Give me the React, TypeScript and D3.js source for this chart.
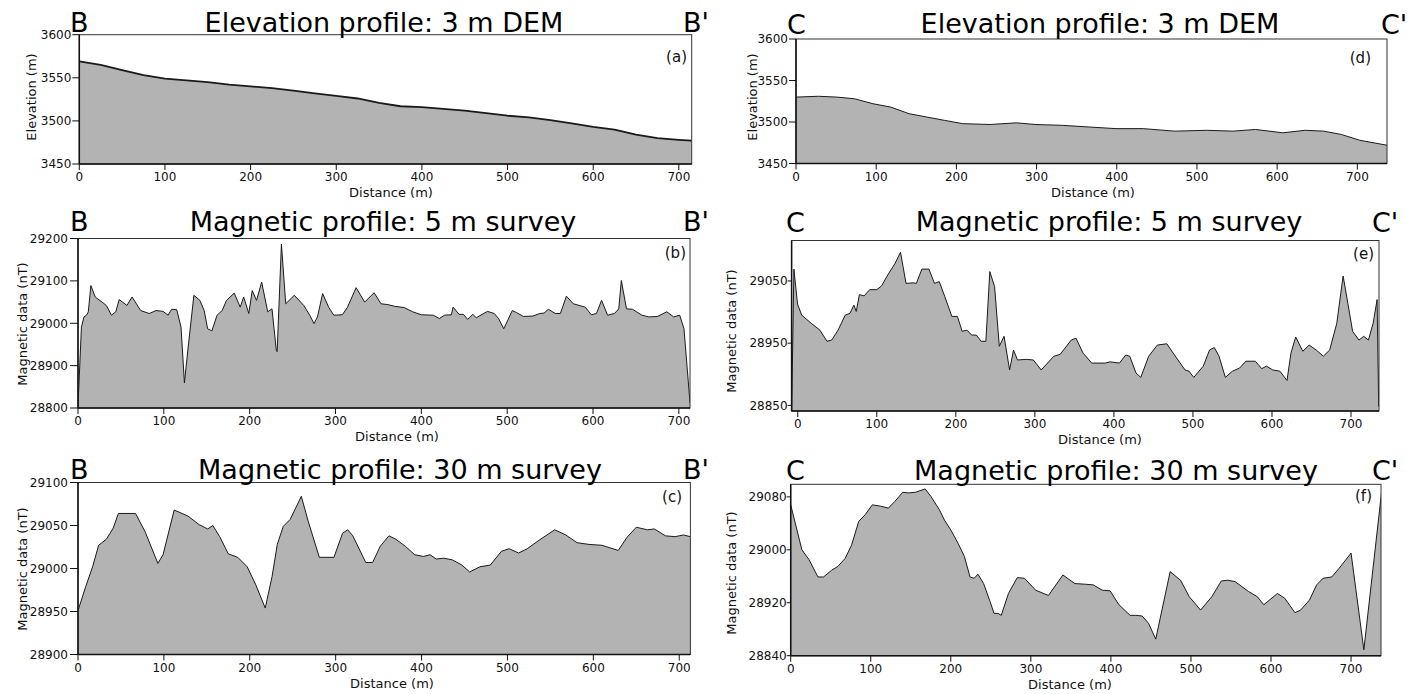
import React from "react";
import * as d3 from "d3";

// ---------- DATA ----------
// Profile B-B' : elevation (3 m DEM)
const elevB_dist = [0, 25, 50, 75, 100, 125, 150, 175, 200, 225, 250, 275, 300, 325, 350, 375, 400, 425, 450, 475, 500, 525, 550, 575, 600, 625, 650, 675, 700, 715];
const elevB_val = [3569, 3565, 3559, 3553, 3549, 3547, 3545, 3542, 3540, 3538, 3535, 3532, 3529, 3526, 3521, 3517, 3516, 3514, 3512, 3509, 3506, 3504, 3501, 3497, 3493, 3490, 3484, 3480, 3478, 3477];

// Profile B-B' : magnetic 5 m survey
const mag5B_dist = [0, 4, 7, 10, 12, 15, 20, 28, 33, 39, 44, 48, 57, 63, 73, 83, 91, 99, 105, 109, 115, 120, 124, 128, 135, 142, 147, 151, 156, 162, 168, 173, 182, 189, 193, 199, 203, 208, 214, 221, 226, 231, 232, 237, 242, 252, 263, 270, 275, 279, 285, 292, 298, 308, 314, 324, 334, 345, 353, 361, 369, 380, 390, 400, 414, 421, 427, 435, 437, 444, 449, 454, 460, 464, 477, 485, 490, 496, 506, 511, 519, 530, 538, 543, 548, 556, 562, 569, 577, 591, 598, 604, 610, 617, 625, 630, 633, 639, 646, 657, 665, 675, 686, 694, 701, 706, 713];
const mag5B_val = [28805, 28991, 29015, 29019, 29027, 29089, 29062, 29050, 29042, 29019, 29027, 29056, 29042, 29062, 29030, 29023, 29030, 29028, 29019, 29033, 29032, 28991, 28859, 28937, 29066, 29054, 29030, 28987, 28982, 29019, 29030, 29054, 29071, 29038, 29062, 29023, 29077, 29054, 29097, 29027, 29034, 28937, 28933, 29187, 29046, 29066, 29042, 29019, 28999, 29015, 29070, 29038, 29019, 29020, 29038, 29084, 29050, 29072, 29046, 29044, 29040, 29037, 29027, 29020, 29019, 29011, 29019, 29020, 29038, 29021, 29021, 29009, 29021, 29013, 29028, 29023, 29011, 28987, 29030, 29025, 29016, 29017, 29023, 29024, 29033, 29023, 29023, 29064, 29046, 29038, 29020, 29023, 29054, 29019, 29023, 29034, 29101, 29034, 29033, 29019, 29015, 29016, 29027, 29015, 29019, 28987, 28812];

// Profile B-B' : magnetic 30 m survey
const mag30B_dist = [0, 9, 17, 24, 33, 41, 47, 67, 78, 93, 99, 112, 128, 141, 151, 157, 165, 175, 186, 197, 207, 218, 226, 232, 239, 247, 260, 268, 281, 298, 308, 314, 320, 335, 343, 352, 362, 370, 381, 392, 402, 410, 417, 426, 436, 447, 456, 468, 480, 493, 502, 513, 523, 537, 555, 568, 581, 595, 610, 629, 639, 650, 663, 671, 684, 695, 705, 713];
const mag30B_val = [28951, 28979, 29002, 29027, 29034, 29047, 29064, 29064, 29043, 29006, 29016, 29068, 29061, 29051, 29046, 29050, 29037, 29017, 29013, 29002, 28981, 28954, 28991, 29028, 29049, 29057, 29084, 29055, 29013, 29013, 29041, 29045, 29038, 29007, 29007, 29026, 29038, 29034, 29026, 29016, 29014, 29016, 29011, 29012, 29010, 29004, 28996, 29002, 29004, 29020, 29023, 29018, 29023, 29033, 29045, 29039, 29030, 29028, 29027, 29021, 29036, 29048, 29045, 29046, 29038, 29037, 29039, 29037];

// Profile C-C' : elevation (3 m DEM)
const elevC_dist = [0, 28, 51, 73, 96, 118, 141, 163, 185, 208, 242, 275, 298, 332, 365, 399, 433, 472, 512, 545, 573, 607, 635, 658, 680, 703, 737];
const elevC_val = [3530, 3531, 3530, 3528, 3522, 3518, 3510, 3506, 3502, 3498, 3497, 3499, 3497, 3496, 3494, 3492, 3492, 3489, 3490, 3489, 3491, 3487, 3490, 3489, 3485, 3478, 3472];

// Profile C-C' : magnetic 5 m survey
const mag5C_dist = [-7.7, -4.9, -0.3, 5, 17, 28, 37, 43, 51, 60, 66, 71, 74, 78, 84, 91, 100, 106, 114, 123, 130, 137, 146, 150, 157, 166, 173, 179, 186, 195, 202, 208, 214, 220, 226, 232, 238, 243, 249, 255, 261, 268, 273, 278, 289, 298, 308, 324, 332, 346, 352, 361, 372, 389, 395, 407, 415, 420, 428, 434, 444, 455, 467, 475, 490, 495, 501, 513, 521, 527, 533, 541, 550, 559, 567, 579, 587, 593, 601, 610, 619, 624, 630, 639, 647, 656, 665, 673, 682, 690, 696, 702, 710, 716, 722, 728, 733, 735];
const mag5C_val = [28843, 29069, 29013, 28995, 28982, 28971, 28953, 28955, 28971, 28995, 28998, 29011, 29001, 29028, 29026, 29036, 29036, 29042, 29060, 29078, 29096, 29046, 29047, 29046, 29069, 29069, 29046, 29049, 29025, 28993, 28993, 28969, 28971, 28963, 28963, 28953, 28953, 29065, 29041, 28945, 28961, 28907, 28939, 28923, 28924, 28923, 28907, 28929, 28932, 28955, 28958, 28934, 28918, 28918, 28920, 28918, 28931, 28929, 28902, 28895, 28929, 28947, 28949, 28934, 28907, 28905, 28895, 28913, 28939, 28943, 28929, 28895, 28905, 28910, 28921, 28921, 28909, 28913, 28907, 28905, 28890, 28934, 28960, 28937, 28947, 28939, 28929, 28939, 28982, 29058, 29014, 28969, 28955, 28961, 28955, 28982, 29020, 28848];

// Profile C-C' : magnetic 30 m survey
const mag30C_dist = [0, 14, 23, 34, 41, 51, 59, 68, 76, 85, 93, 102, 112, 122, 130, 140, 147, 156, 168, 175, 186, 192, 200, 209, 217, 224, 229, 234, 241, 249, 254, 259, 263, 272, 283, 292, 306, 322, 340, 355, 368, 378, 389, 399, 410, 424, 431, 439, 447, 456, 474, 487, 498, 512, 526, 538, 546, 555, 572, 583, 591, 608, 617, 630, 637, 648, 657, 665, 676, 685, 700, 716, 738];
const mag30C_val = [29068, 29000, 28985, 28959, 28959, 28969, 28975, 28987, 29007, 29043, 29053, 29068, 29066, 29063, 29073, 29087, 29086, 29087, 29092, 29081, 29060, 29045, 29030, 29010, 28990, 28959, 28957, 28963, 28949, 28922, 28904, 28904, 28901, 28934, 28958, 28957, 28939, 28931, 28962, 28949, 28948, 28947, 28939, 28938, 28917, 28901, 28901, 28900, 28889, 28865, 28967, 28954, 28929, 28909, 28929, 28953, 28954, 28952, 28937, 28929, 28917, 28934, 28927, 28905, 28909, 28924, 28947, 28957, 28959, 28972, 28995, 28849, 29086];

const distTicks = [0, 100, 200, 300, 400, 500, 600, 700];
const elevTicks = [3450, 3500, 3550, 3600];
const mag5BTicks = [28800, 28900, 29000, 29100, 29200];
const mag30BTicks = [28900, 28950, 29000, 29050, 29100];
const mag5CTicks = [28850, 28950, 29050];
const mag30CTicks = [28840, 28920, 29000, 29080];

// ---------- LAYOUT ----------
const FONT = "'DejaVu Sans', Verdana, sans-serif";

type Cfg = {
  id: string;
  xs: number[];
  ys: number[];
  xDomain: [number, number];
  yDomain: [number, number];
  yTicks: number[];
  left: number; right: number; top: number; bottom: number;
  title: string; titleCx: number; titleY: number;
  lName: string; rName: string; lX: number; rX: number; nameY: number;
  tag: string; tagX: number; tagY: number;
  ylabel: string; ylabelX: number; ylabelY: number;
  xlabelX: number;
  tickLen: number; labelGap: number;
  lineW: number;
};

const panels: Cfg[] = [
  {
    id: "a", xs: elevB_dist, ys: elevB_val, xDomain: [0, 715], yDomain: [3450, 3600], yTicks: elevTicks,
    left: 79.3, right: 691.7, top: 34.7, bottom: 164,
    title: "Elevation profile: 3 m DEM", titleCx: 384, titleY: 32,
    lName: "B", rName: "B'", lX: 70, rX: 683, nameY: 32,
    tag: "(a)", tagX: 687, tagY: 62,
    ylabel: "Elevation (m)", ylabelX: 31, ylabelY: 97, xlabelX: 391,
    tickLen: 7, labelGap: 8, lineW: 1.8,
  },
  {
    id: "b", xs: mag5B_dist, ys: mag5B_val, xDomain: [0, 713], yDomain: [28800, 29200], yTicks: mag5BTicks,
    left: 78, right: 690, top: 238.5, bottom: 408,
    title: "Magnetic profile: 5 m survey", titleCx: 383, titleY: 231,
    lName: "B", rName: "B'", lX: 70, rX: 683, nameY: 231,
    tag: "(b)", tagX: 686, tagY: 258,
    ylabel: "Magnetic data (nT)", ylabelX: 22, ylabelY: 324, xlabelX: 397,
    tickLen: 8, labelGap: 10, lineW: 1,
  },
  {
    id: "c", xs: mag30B_dist, ys: mag30B_val, xDomain: [0, 713], yDomain: [28900, 29100], yTicks: mag30BTicks,
    left: 78, right: 690.4, top: 482.5, bottom: 654.5,
    title: "Magnetic profile: 30 m survey", titleCx: 400, titleY: 479,
    lName: "B", rName: "B'", lX: 70, rX: 683, nameY: 479,
    tag: "(c)", tagX: 682, tagY: 502,
    ylabel: "Magnetic data (nT)", ylabelX: 22, ylabelY: 569, xlabelX: 392,
    tickLen: 8, labelGap: 10, lineW: 1,
  },
  {
    id: "d", xs: elevC_dist, ys: elevC_val, xDomain: [0, 737], yDomain: [3450, 3600], yTicks: elevTicks,
    left: 796, right: 1387, top: 39, bottom: 163.5,
    title: "Elevation profile: 3 m DEM", titleCx: 1100, titleY: 33,
    lName: "C", rName: "C'", lX: 787, rX: 1381, nameY: 34,
    tag: "(d)", tagX: 1371, tagY: 63,
    ylabel: "Elevation (m)", ylabelX: 752, ylabelY: 97, xlabelX: 1093,
    tickLen: 7, labelGap: 8, lineW: 1,
  },
  {
    id: "e", xs: mag5C_dist, ys: mag5C_val, xDomain: [-7.8, 735.4], yDomain: [28841, 29115], yTicks: mag5CTicks,
    left: 791.6, right: 1379, top: 240.5, bottom: 411,
    title: "Magnetic profile: 5 m survey", titleCx: 1109, titleY: 231,
    lName: "C", rName: "C'", lX: 786, rX: 1372, nameY: 232,
    tag: "(e)", tagX: 1374, tagY: 259,
    ylabel: "Magnetic data (nT)", ylabelX: 731, ylabelY: 331, xlabelX: 1100,
    tickLen: 4, labelGap: 4, lineW: 1,
  },
  {
    id: "f", xs: mag30C_dist, ys: mag30C_val, xDomain: [0, 737.4], yDomain: [28840, 29099], yTicks: mag30CTicks,
    left: 790.7, right: 1381, top: 484.3, bottom: 655.7,
    title: "Magnetic profile: 30 m survey", titleCx: 1116, titleY: 480,
    lName: "C", rName: "C'", lX: 786, rX: 1372, nameY: 480,
    tag: "(f)", tagX: 1372, tagY: 501,
    ylabel: "Magnetic data (nT)", ylabelX: 731, ylabelY: 573, xlabelX: 1070,
    tickLen: 4, labelGap: 4, lineW: 1,
  },
];

function Panel({ c }: { c: Cfg }) {
  const x = d3.scaleLinear().domain(c.xDomain).range([c.left, c.right]);
  const y = d3.scaleLinear().domain(c.yDomain).range([c.bottom, c.top]);
  const pts: [number, number][] = c.xs.map((d, i) => [d, c.ys[i]]);
  const area = d3.area<[number, number]>().x((d) => x(d[0])).y0(c.bottom).y1((d) => y(d[1]));
  const line = d3.line<[number, number]>().x((d) => x(d[0])).y((d) => y(d[1]));
  const clipId = `clip-${c.id}`;
  return (
    <g>
      <defs>
        <clipPath id={clipId}>
          <rect x={c.left} y={c.top} width={c.right - c.left} height={c.bottom - c.top} />
        </clipPath>
      </defs>
      <g clipPath={`url(#${clipId})`}>
        <path d={area(pts) || ""} fill="#b3b3b3" stroke="none" />
        <path d={line(pts) || ""} fill="none" stroke="#1a1a1a" strokeWidth={c.lineW} strokeLinejoin="round" />
      </g>
      {/* frame */}
      <rect x={c.left} y={c.top} width={c.right - c.left} height={c.bottom - c.top} fill="none" stroke="#333" strokeWidth={1} />
      <line x1={c.left} x2={c.left} y1={c.top} y2={c.bottom} stroke="#111" strokeWidth={1.5} />
      <line x1={c.left} x2={c.right} y1={c.bottom} y2={c.bottom} stroke="#111" strokeWidth={1.5} />
      {/* y ticks */}
      {c.yTicks.map((t) => (
        <g key={`y${t}`}>
          <line x1={c.left - c.tickLen} x2={c.left} y1={y(t)} y2={y(t)} stroke="#111" strokeWidth={1} />
          <text x={c.left - c.labelGap} y={y(t)} dy="0.36em" textAnchor="end" fontSize={12} fontFamily={FONT} fill="#111">
            {t}
          </text>
        </g>
      ))}
      {/* x ticks */}
      {distTicks.map((t) => (
        <g key={`x${t}`}>
          <line x1={x(t)} x2={x(t)} y1={c.bottom} y2={c.bottom + 6} stroke="#111" strokeWidth={1} />
          <text x={x(t)} y={c.bottom + 17} textAnchor="middle" fontSize={12} fontFamily={FONT} fill="#111">
            {t}
          </text>
        </g>
      ))}
      <text x={c.xlabelX} y={c.bottom + 33} textAnchor="middle" fontSize={13} fontFamily={FONT} fill="#111">
        Distance (m)
      </text>
      <text
        transform={`translate(${c.ylabelX},${c.ylabelY}) rotate(-90)`}
        textAnchor="middle"
        dy="0.36em"
        fontSize={13}
        fontFamily={FONT}
        fill="#111"
      >
        {c.ylabel}
      </text>
      {/* titles */}
      <text x={c.titleCx} y={c.titleY} textAnchor="middle" fontSize={27} fontFamily={FONT} fill="#000">
        {c.title}
      </text>
      <text x={c.lX} y={c.nameY} fontSize={27} fontFamily={FONT} fill="#000">
        {c.lName}
      </text>
      <text x={c.rX} y={c.nameY} fontSize={27} fontFamily={FONT} fill="#000">
        {c.rName}
      </text>
      <text x={c.tagX} y={c.tagY} textAnchor="end" fontSize={15} fontFamily={FONT} fill="#111">
        {c.tag}
      </text>
    </g>
  );
}

export default function App() {
  return (
    <svg
      width={1410}
      height={694}
      viewBox="0 0 1410 694"
      style={{ position: "absolute", left: 0, top: 0, background: "#fff" }}
    >
      <rect x={0} y={0} width={1410} height={694} fill="#fff" />
      {panels.map((c) => (
        <Panel key={c.id} c={c} />
      ))}
    </svg>
  );
}
